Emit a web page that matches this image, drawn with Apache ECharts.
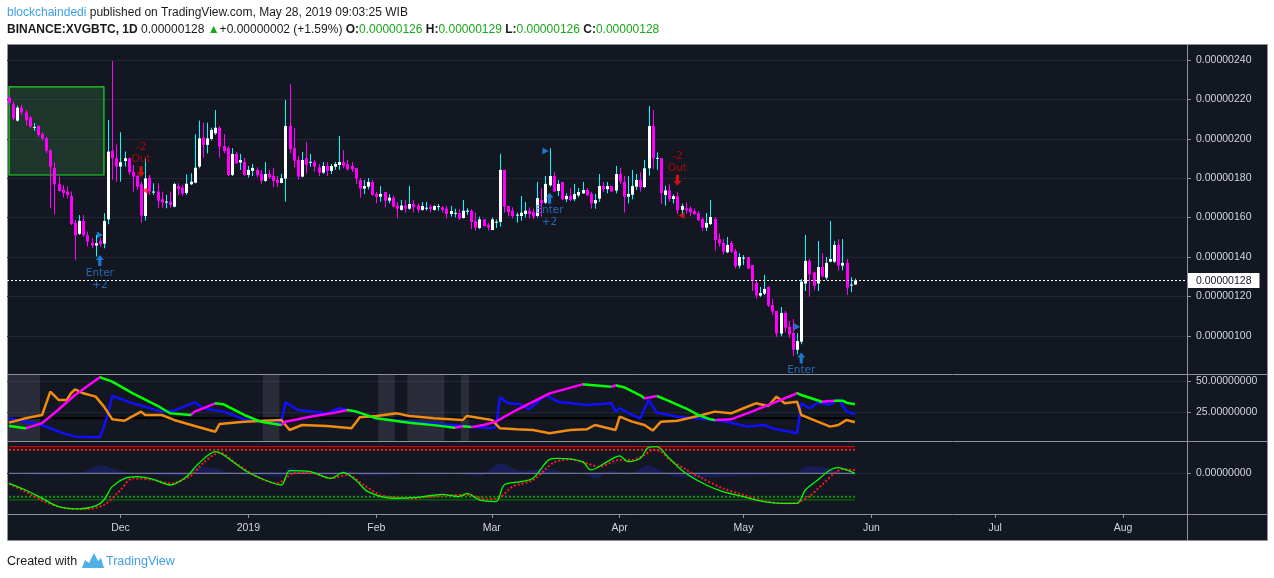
<!DOCTYPE html>
<html>
<head>
<meta charset="utf-8">
<script src="https://cdn.jsdelivr.net/npm/echarts@6/dist/echarts.min.js"></script>
<style>
  html, body { margin: 0; padding: 0; background: #fff; }
  #chart { width: 1274px; height: 578px; }
</style>
</head>
<body>
<div id="chart"></div>
<script>
// daily candles, Nov 4 2018 .. May 28 2019, prices in satoshi (1e-8 BTC)
const START = Date.UTC(2018, 10, 4);
const DAY_COUNT = 286; // visible category slots, data fills the first 206

const open = [
  220.9,217.5,209.2,215.8,213.4,210.7,205.6,206.5,202.4,200.2,
  194.1,185.2,176.9,174.2,173.2,170.9,157.4,151.7,158.3,151.0,
  147.3,145.8,148.1,146.8,159.1,194.0,190.1,185.9,188.7,190.1,
  183.3,181.1,176.9,160.8,180.3,172.9,173.2,169.3,168.0,168.1,
  165.5,176.0,175.2,172.5,176.9,177.7,185.9,200.6,196.9,199.9,
  202.8,205.6,196.3,195.2,181.6,192.3,187.9,188.2,181.6,183.7,
  184.2,182.1,178.6,182.1,181.1,179.1,177.6,179.8,206.5,195.2,
  189.2,180.8,190.1,188.0,188.2,185.5,182.8,186.2,183.7,185.8,
  186.7,188.2,187.2,186.2,185.2,179.1,174.7,175.7,178.1,172.0,
  170.6,173.0,168.6,170.1,166.1,163.9,166.1,164.5,166.9,166.1,
  163.9,164.8,165.5,163.9,165.5,165.2,164.5,161.8,162.2,162.2,
  159.8,163.3,163.5,158.1,154.7,159.1,156.4,153.7,157.8,157.8,
  184.2,165.9,163.5,161.3,160.8,161.8,163.5,162.8,160.8,168.9,
  167.6,176.4,181.1,173.5,178.1,169.3,171.0,169.3,171.3,172.3,
  174.0,172.0,167.2,169.6,176.0,174.4,176.0,173.7,182.1,178.1,
  170.6,171.6,175.7,179.1,175.5,185.0,206.5,190.1,190.1,171.5,
  173.8,169.4,170.8,163.9,164.7,164.7,163.3,162.2,159.3,154.9,
  156.7,159.3,149.1,147.1,142.4,147.1,143.0,135.6,139.6,140.0,
  135.9,126.8,120.4,121.4,124.8,115.6,112.6,101.1,111.6,104.5,
  101.4,92.9,97.0,126.5,138.0,132.2,126.5,134.9,129.5,137.6,
  137.6,146.1,135.6,137.0,125.7,126.0
];
const high = [
  221.9,218.9,216.8,217.2,214.6,211.6,207.9,207.0,203.3,201.0,
  194.6,188.0,180.8,176.6,175.7,173.2,158.8,161.3,161.3,152.9,
  149.5,151.2,149.8,162.2,209.5,239.5,197.2,203.3,193.5,190.4,
  186.7,181.6,178.2,190.0,181.6,177.4,177.4,173.2,171.5,173.2,
  177.7,177.4,176.6,181.9,182.5,202.3,209.2,208.2,208.2,205.6,
  214.6,206.5,202.4,196.3,195.2,193.3,192.3,190.2,186.2,187.2,
  185.5,184.2,188.2,184.2,185.3,181.1,182.1,219.7,227.8,205.3,
  191.3,193.3,198.4,192.3,189.2,187.2,188.2,188.2,187.2,188.2,
  201.4,194.3,189.2,188.2,185.2,180.1,179.1,180.1,179.1,173.0,
  176.0,173.0,172.0,171.3,167.9,168.9,168.9,176.0,168.9,167.2,
  167.9,167.9,166.7,166.2,166.9,165.9,165.9,165.9,164.5,164.2,
  168.9,164.7,164.2,162.5,160.5,159.1,157.4,160.0,159.1,192.3,
  184.2,165.9,165.2,162.5,171.0,167.9,165.2,164.5,178.1,175.0,
  181.1,195.2,183.2,179.1,178.1,172.3,175.0,177.1,175.0,178.1,
  175.0,173.0,172.0,182.1,178.1,178.1,176.0,186.2,185.2,181.1,
  181.1,184.2,182.1,183.0,189.2,216.6,214.6,193.1,190.1,176.2,
  176.9,171.8,172.8,167.1,167.7,165.7,164.7,163.3,160.3,162.3,
  168.9,160.3,152.0,149.1,150.1,148.1,144.1,142.0,141.0,140.0,
  135.9,127.8,124.8,130.9,125.1,118.7,112.6,114.6,112.6,107.5,
  108.5,101.4,128.8,151.2,139.0,132.6,148.1,142.0,140.0,158.3,
  148.1,149.1,149.1,139.0,129.8,129.0
];
const low = [
  217.2,209.5,208.7,212.1,206.7,205.7,204.0,201.0,199.2,192.6,
  164.7,161.6,173.2,170.1,169.8,156.2,138.3,151.2,150.3,145.2,
  144.4,140.2,145.2,144.4,156.6,179.1,178.2,178.2,185.9,181.6,
  173.2,174.0,157.4,158.5,171.5,171.5,164.7,165.0,164.7,164.7,
  165.2,171.5,171.0,171.5,176.5,177.4,185.0,190.4,192.6,199.0,
  201.9,190.4,192.6,181.1,181.1,187.2,184.2,181.1,180.3,181.1,
  180.3,177.1,178.1,179.8,175.4,175.4,177.4,168.1,192.6,185.5,
  179.1,180.4,182.3,185.8,183.3,181.1,182.1,181.1,182.1,184.2,
  184.2,185.0,183.8,183.1,177.1,170.1,172.0,174.3,171.0,167.2,
  168.0,165.2,167.2,165.2,159.5,163.5,162.5,163.9,162.5,162.5,
  163.5,163.5,162.5,163.5,163.5,162.5,159.5,160.5,160.1,158.8,
  159.5,161.3,154.1,153.4,154.1,155.4,153.4,153.7,154.7,155.4,
  162.5,160.5,159.5,157.4,158.4,160.1,159.6,159.1,160.1,160.5,
  166.9,175.7,173.0,171.0,168.9,167.9,168.3,168.3,170.3,172.0,
  171.0,164.5,164.5,167.9,173.0,172.3,173.0,172.3,177.1,162.5,
  167.2,169.3,174.0,173.2,174.9,181.3,184.7,184.2,167.1,166.0,
  168.1,167.1,161.7,161.3,162.0,160.6,161.3,158.3,153.2,153.2,
  156.2,143.2,145.2,141.3,141.9,142.0,134.2,134.2,135.9,133.9,
  122.7,118.7,119.7,120.7,114.6,110.6,99.4,99.7,101.8,99.0,
  89.6,90.6,95.7,122.7,119.9,123.1,122.7,129.5,128.5,137.3,
  137.0,132.9,133.2,120.7,122.1,126.0
];
const close = [
  218.3,210.4,215.8,213.4,209.4,206.2,206.0,201.9,200.2,194.0,
  185.8,176.9,173.5,172.5,171.5,156.7,151.0,158.3,151.0,147.8,
  145.8,147.0,146.4,158.3,193.5,190.1,185.9,188.1,190.1,183.0,
  180.8,175.7,161.0,179.9,173.2,173.2,168.6,167.7,168.1,166.4,
  177.0,174.5,172.1,177.2,178.2,185.3,200.2,196.9,200.2,204.5,
  205.6,196.0,193.8,181.6,192.3,187.5,189.2,181.6,184.2,185.2,
  181.5,178.7,182.1,180.4,178.6,177.6,180.0,206.5,194.8,188.9,
  180.8,189.2,186.7,188.3,185.8,182.8,186.2,183.7,186.2,187.2,
  188.2,186.4,184.5,184.5,179.8,174.7,176.0,178.1,171.5,170.6,
  172.0,168.6,170.1,165.5,164.5,166.1,164.5,166.9,165.2,163.9,
  165.9,165.0,164.4,165.9,165.8,163.9,161.8,163.3,162.4,159.5,
  163.5,163.5,157.8,154.9,159.1,155.7,154.9,159.1,157.9,184.2,
  165.5,162.8,160.8,161.5,162.5,163.5,161.8,160.5,169.9,167.2,
  177.1,181.1,173.3,177.1,169.3,171.0,168.9,172.0,173.0,174.0,
  171.3,167.2,168.9,176.0,174.4,176.0,173.3,182.1,178.4,170.6,
  172.0,176.0,179.1,175.2,185.0,206.5,190.1,190.3,172.5,173.8,
  169.4,170.9,163.7,165.9,163.7,162.7,161.8,158.8,154.9,157.3,
  160.3,148.6,146.8,142.7,146.1,142.7,135.3,140.0,139.7,134.2,
  127.8,120.4,121.7,123.8,115.3,112.3,101.1,111.6,104.1,100.7,
  92.9,97.3,127.5,138.0,131.2,125.4,134.9,130.2,137.0,139.0,
  146.1,135.6,137.0,124.4,126.0,128.0
];

// axis ticks
const priceTicks = [100, 120, 140, 160, 180, 200, 220, 240];
const dmiTicks = [25, 50];
const oscTicks = [0];
const tickDates = ['2018-12-01','2019-01-01','2019-02-01','2019-03-01','2019-04-01','2019-05-01','2019-06-01','2019-07-01','2019-08-01'];
const tickLabels = ['Dec','2019','Feb','Mar','Apr','May','Jun','Jul','Aug'];

// trade signals [dayIndex, price]
const enterIdx = [22, 131, 192];
const enterPrice = [138.2, 169.8, 88.7];
const enterText = ['Enter\n+2', 'Enter\n+2', 'Enter'];
const outIdx = [32, 162];
const outPrice = [183.3, 178.9];
const buyFlagIdx = [22, 130, 191];
const buyFlagPrice = [151.2, 193.8, 104.6];
const sellFlagIdx = [33, 163];
const sellFlagPrice = [173.7, 161.0];

// rectangle drawing [dayIndex, price]
const boxStart = [0, 226.3];
const boxEnd = [23, 181.6];

// DMI pane: [dayIndex, value]
const adx = [[0,13.7],[4,11.8],[8,16],[12,27],[16,38.7],[22,53],[25,49.5],[30,40],[36,30],[39,24],[44,22.6],[45,25.3],[50,32],[52,31.2],[57,22.6],[61,17.2],[66,14.5],[67,17.2],[73,21.2],[79,24.5],[82,26.6],[84,25.5],[89,19.9],[97,16.4],[104,14],[108,12.3],[110,13.5],[112,12.8],[115,14.5],[118,17.2],[123,26.6],[131,40],[139,47.3],[141,46.8],[146,45.4],[147,46.5],[149,45],[153,38.5],[154,36],[157,37.9],[159,35.2],[164,28],[167,22.6],[170,19.1],[171,18.6],[175,19.1],[180,25.3],[185,32],[191,40.1],[192,38.7],[197,33.3],[200,34.1],[202,34.1],[203,32.5],[205,31.2]];
const plusDI = [[0,19.9],[4,17.2],[8,14.5],[12,9.1],[16,5.1],[22,4.6],[23,13.2],[24,23.9],[25,37.9],[30,32],[37,25.3],[40,26.1],[45,32.8],[47,28],[52,25.3],[57,19.1],[61,17.2],[66,17.2],[67,32.8],[70,26.6],[77,23.9],[80,28],[84,25.3],[89,19.9],[97,17.2],[107,14.5],[117,11.8],[118,13.2],[119,36.8],[121,32],[124,31.2],[126,27.2],[130,38.7],[133,33.3],[140,30.6],[146,32],[147,25.3],[148,28],[151,22.6],[153,19.9],[155,34.7],[157,24.5],[162,21.2],[169,19.1],[174,17.2],[179,13.2],[183,14.5],[185,11.8],[191,7.8],[192,32],[194,28],[196,32.5],[199,31],[201,35.2],[203,25.3],[205,23.4]];
const minusDI = [[0,16.4],[4,19.9],[8,22.6],[9,32],[10,41.4],[12,34.7],[14,34.7],[15,40.1],[16,43.3],[18,40.1],[21,37.4],[23,29.3],[25,19.1],[28,18],[32,25.3],[33,22.6],[37,22.6],[40,18.6],[45,13.7],[50,9.1],[51,15.3],[57,17.2],[62,18],[66,18.6],[68,10.5],[71,14.5],[77,13.7],[83,11.8],[85,20.7],[89,21.8],[94,23.9],[97,21.8],[103,19.9],[110,18.6],[111,21.8],[117,18.6],[119,11.8],[123,11],[127,10.5],[131,7.8],[136,10.5],[140,11],[142,14.5],[147,10.5],[148,21.2],[151,17.2],[154,14.5],[156,10],[158,17.2],[162,18],[168,22.6],[171,25.3],[175,23.9],[178,28],[181,32],[184,29.8],[186,37.4],[188,32],[191,33.3],[192,22.6],[196,17.2],[199,13.2],[201,14.5],[203,18.6],[205,16.7]];
const adxKeyLevel = 20;
const shadeRanges = [[0, 7], [62, 65], [90, 93], [97, 105], [110, 111]];

// WaveTrend pane: [dayIndex, value]
const wt1 = [[0,-22.6],[4,-37.7],[8,-56.5],[12,-75.3],[17,-80.5],[21,-73.8],[23,-60.2],[25,-30.2],[28,-11.3],[31,-7.6],[35,-13.6],[39,-26.4],[43,-7.6],[46,22.5],[50,48.9],[52,41.3],[57,7.5],[62,-15.1],[66,-26.4],[68,6],[73,3.7],[78,-11.3],[81,2.2],[84,-15.1],[87,-41.4],[93,-56.5],[99,-54.2],[105,-47.4],[109,-52.7],[111,-45.2],[114,-60.2],[118,-64],[120,-26.4],[124,-18.9],[127,-11.3],[131,31.5],[133,33.8],[139,26.3],[141,7.5],[145,26.3],[148,39.1],[150,26.3],[153,33.8],[155,58.6],[157,60.2],[160,33.8],[164,0],[169,-26.4],[173,-41.4],[178,-52.7],[183,-64],[187,-67.8],[191,-67.8],[193,-37.7],[196,-15.1],[199,7.5],[201,12.8],[203,7.5],[205,0]];
const wt2 = [[0,-24],[4,-41.4],[8,-61.7],[13,-77.5],[18,-81.3],[23,-71.5],[27,-37.7],[30,-11.3],[35,-15.1],[39,-22.6],[44,-6],[47,22.5],[51,46.6],[55,22.5],[60,-7.6],[65,-22.6],[69,0],[73,1.5],[78,-11.3],[82,-3.8],[86,-26.4],[90,-48.9],[97,-56.5],[105,-50.4],[111,-48.9],[116,-58.7],[119,-54.2],[122,-30.2],[127,-15.1],[132,24],[136,31.5],[140,22.5],[143,15],[148,30],[151,30],[154,41.3],[156,52.6],[158,48.9],[160,31.5],[164,9],[168,-11.3],[173,-33.9],[178,-48.9],[183,-62.5],[188,-67.8],[191,-66.3],[194,-51.2],[197,-26.4],[200,0],[202,9],[205,7.5]];
const wtHist = [[0,0],[10,-4],[18,3],[22,18],[26,8],[30,0],[36,-4],[42,-5],[46,14],[50,10],[56,-3],[62,-5],[66,-8],[68,13],[72,3],[78,-4],[82,5],[86,-6],[92,-4],[100,1],[108,0],[114,-6],[119,22],[124,6],[130,10],[134,4],[140,-3],[142,-12],[146,6],[150,-3],[155,18],[158,6],[162,-8],[168,-10],[175,-6],[185,-4],[190,-1],[194,16],[198,12],[202,2],[205,-6]];
const obLevel1 = 60, obLevel2 = 53, osLevel1 = -60, osLevel2 = -53;

const BG = '#131722';
const FRAME = '#8f929b';
const GRID_LINE = '#222634';
const LABEL = '#d1d4dc';
const UP = '#ffffff', WICK_UP = '#00ffff', DOWN = '#ff00ff';
const AXIS_FONT = 'Liberation Sans, Arial, sans-serif';
const HEAD_FONT = 'Liberation Sans, Arial, sans-serif';

const fmtPrice = v => (v / 1e8).toFixed(8);
const fmtOsc = v => v.toFixed(8);

const categories = [];
for (let k = 0; k < DAY_COUNT; k++) {
  categories.push(new Date(START + k * 86400000).toISOString().slice(0, 10));
}
const last = close.length - 1;
const candleData = close.map((c, k) => [k, open[k], high[k], low[k], c]);

function renderCandle(params, api) {
  const x = api.value(0);
  const o = api.value(1), h = api.value(2), l = api.value(3), c = api.value(4);
  const pH = api.coord([x, h]), pL = api.coord([x, l]);
  const pO = api.coord([x, o]), pC = api.coord([x, c]);
  const cx = Math.round(pH[0]);
  const w = Math.max(1, Math.round(api.size([1, 0])[0] * 0.7));
  const up = c >= o;
  const top = Math.min(pO[1], pC[1]);
  const bh = Math.max(1, Math.abs(pO[1] - pC[1]));
  return {
    type: 'group',
    children: [
      { type: 'line', shape: { x1: cx + 0.5, y1: pH[1], x2: cx + 0.5, y2: pL[1] },
        style: { stroke: up ? WICK_UP : DOWN, lineWidth: 1 } },
      { type: 'rect', shape: { x: cx + 0.5 - w / 2, y: top, width: w, height: bh },
        style: { fill: up ? UP : DOWN } }
    ]
  };
}

const arrowPath = 'path://M5,0 L10,5 L7,5 L7,11 L3,11 L3,5 L0,5 Z';
const signalData = [];
enterIdx.forEach((x, k) => signalData.push({
  value: [x, enterPrice[k]], symbol: arrowPath, symbolSize: [8, 11],
  itemStyle: { color: '#1e90ff' },
  label: { show: true, position: 'bottom', distance: 1, formatter: enterText[k],
    color: '#2a7bd0', fontSize: 10.5, lineHeight: 12, fontFamily: 'DejaVu Sans, sans-serif' }
}));
outIdx.forEach((x, k) => signalData.push({
  value: [x, outPrice[k]], symbol: arrowPath, symbolSize: [8, 11], symbolRotate: 180,
  itemStyle: { color: '#ff1010' },
  label: { show: true, position: 'top', distance: 1, formatter: '-2\nOut',
    color: '#d40000', fontSize: 10.5, lineHeight: 12, fontFamily: 'DejaVu Sans, sans-serif' }
}));
buyFlagIdx.forEach((x, k) => signalData.push({
  value: [x, buyFlagPrice[k]], symbol: 'triangle', symbolSize: [7, 6], symbolRotate: -90,
  itemStyle: { color: '#1e90ff' }
}));
sellFlagIdx.forEach((x, k) => signalData.push({
  value: [x, sellFlagPrice[k]], symbol: 'triangle', symbolSize: [7, 6], symbolRotate: 90,
  itemStyle: { color: '#ff1010' }
}));

const shadeData = [];
shadeRanges.forEach(([a, b]) => { for (let k = a; k <= b; k++) shadeData.push([k, 55.65]); });

const adxPieces = [];
for (let k = 0; k < adx.length - 1; k++) {
  if (adx[k + 1][1] > adx[k][1]) adxPieces.push({ gte: adx[k][0], lte: adx[k + 1][0], color: '#ff00ff' });
}

const level = v => [[0, v], [last, v]];

function xAxisFor(gridIndex, showLabels) {
  return {
    type: 'category', gridIndex, data: categories, boundaryGap: true,
    axisLine: { show: false, onZero: false },
    axisTick: { show: showLabels, length: 4, alignWithLabel: true,
      interval: (i, v) => tickDates.includes(v), lineStyle: { color: FRAME } },
    axisLabel: { show: showLabels, interval: (i, v) => tickDates.includes(v),
      formatter: v => tickLabels[tickDates.indexOf(v)] || '',
      color: LABEL, fontSize: 10.5, fontFamily: AXIS_FONT, margin: 9 },
    splitLine: { show: false }
  };
}
function yAxisFor(gridIndex, min, max, ticks, fmt) {
  return {
    type: 'value', gridIndex, position: 'right', min, max, scale: true,
    axisLine: { show: false, onZero: false },
    axisTick: { show: true, length: 4, customValues: ticks, lineStyle: { color: FRAME } },
    axisLabel: { customValues: ticks, formatter: fmt, color: LABEL, fontSize: 10.5,
      fontFamily: AXIS_FONT, margin: 9 },
    splitLine: { show: true, lineStyle: { color: GRID_LINE } }
  };
}

const lastChange = close[last] - close[last - 1];
const lastPct = (lastChange / close[last - 1] * 100).toFixed(2);
const headLine2 =
  '{b|BINANCE:XVGBTC, 1D} {t|' + fmtPrice(close[last]) + '} {g|\u25B2}{t|+' + fmtPrice(lastChange) +
  ' (+' + lastPct + '%)} {b|O:}{g|' + fmtPrice(open[last]) + '} {b|H:}{g|' + fmtPrice(high[last]) +
  '} {b|L:}{g|' + fmtPrice(low[last]) + '} {b|C:}{g|' + fmtPrice(close[last]) + '}';

const chart = echarts.init(document.getElementById('chart'));
chart.setOption({
  animation: false,
  backgroundColor: '#ffffff',
  textStyle: { fontFamily: AXIS_FONT },
  grid: [
    { left: 7, top: 44, width: 1180, height: 330 },
    { left: 7, top: 374, width: 1180, height: 67 },
    { left: 7, top: 441, width: 1180, height: 73 }
  ],
  xAxis: [xAxisFor(0, false), xAxisFor(1, false), xAxisFor(2, true)],
  yAxis: [
    yAxisFor(0, 80.6, 248.1, priceTicks, fmtPrice),
    yAxisFor(1, 1.6, 55.65, dmiTicks, fmtOsc),
    yAxisFor(2, -91.9, 72.9, oscTicks, fmtOsc)
  ],
  visualMap: [{
    type: 'piecewise', show: false, seriesIndex: 4, dimension: 0,
    pieces: adxPieces, outOfRange: { color: '#00ff00' }
  }],
  graphic: [
    { type: 'rect', z: -10, silent: true,
      shape: { x: 7.5, y: 44.5, width: 1260, height: 496 },
      style: { fill: BG, stroke: FRAME, lineWidth: 1 } },
    { type: 'line', z: 50, silent: true, shape: { x1: 7.5, y1: 374.5, x2: 1267.5, y2: 374.5 }, style: { stroke: FRAME } },
    { type: 'line', z: 50, silent: true, shape: { x1: 7.5, y1: 441.5, x2: 1267.5, y2: 441.5 }, style: { stroke: FRAME } },
    { type: 'line', z: 50, silent: true, shape: { x1: 7.5, y1: 514.5, x2: 1267.5, y2: 514.5 }, style: { stroke: FRAME } },
    { type: 'line', z: 50, silent: true, shape: { x1: 1187.5, y1: 44.5, x2: 1187.5, y2: 540.5 }, style: { stroke: FRAME } },
    { type: 'text', left: 7, top: 7, z: 50,
      style: {
        text: '{u|blockchaindedi}{t| published on TradingView.com, May 28, 2019 09:03:25 WIB}\n' + headLine2,
        rich: {
          u: { fill: '#3d9ee8', fontSize: 12, fontFamily: HEAD_FONT, lineHeight: 17 },
          t: { fill: '#1a1a1a', fontSize: 12, fontFamily: HEAD_FONT, lineHeight: 17 },
          b: { fill: '#1a1a1a', fontSize: 12, fontWeight: 'bold', fontFamily: HEAD_FONT, lineHeight: 17 },
          g: { fill: '#16a816', fontSize: 12, fontFamily: HEAD_FONT, lineHeight: 17 }
        }
      } },
    { type: 'text', left: 7, top: 555, z: 50,
      style: { text: 'Created with', fill: '#1a1a1a', fontSize: 12.5, fontFamily: HEAD_FONT } },
    { type: 'polygon', z: 50, silent: true,
      shape: { points: [[82, 568], [85, 560], [89, 563], [94, 553], [98, 561], [101, 558], [104, 568]] },
      style: { fill: '#4fb0e6' } },
    { type: 'text', left: 106, top: 555, z: 50,
      style: { text: 'TradingView', fill: '#3d9ee8', fontSize: 12.5, fontFamily: HEAD_FONT } }
  ],
  series: [
    { // 0 candles
      type: 'custom', name: 'XVGBTC', xAxisIndex: 0, yAxisIndex: 0,
      renderItem: renderCandle, encode: { x: 0, y: [1, 2, 3, 4] }, data: candleData, z: 3
    },
    { // 1 signals + drawings
      type: 'scatter', xAxisIndex: 0, yAxisIndex: 0, data: signalData, z: 4,
      markLine: {
        silent: true, symbol: 'none',
        lineStyle: { color: '#ffffff', type: [2, 2], width: 1 },
        label: { show: true, position: 'end', distance: 1, formatter: fmtPrice(close[last]),
          backgroundColor: '#ffffff', color: '#131722', padding: [2, 8, 2, 8],
          fontSize: 10.5, fontFamily: AXIS_FONT },
        data: [{ yAxis: close[last] }]
      },
      markArea: {
        silent: true,
        itemStyle: { color: 'rgba(76,175,80,0.2)', borderColor: '#22d922', borderWidth: 1.2 },
        data: [[{ xAxis: boxStart[0], yAxis: boxStart[1] }, { xAxis: boxEnd[0], yAxis: boxEnd[1] }]]
      }
    },
    { // 2 shaded bands
      type: 'bar', xAxisIndex: 1, yAxisIndex: 1, data: shadeData, barCategoryGap: '0%',
      itemStyle: { color: 'rgba(120,123,134,0.23)' }, z: 1, silent: true
    },
    { // 3 key level
      type: 'line', xAxisIndex: 1, yAxisIndex: 1, data: level(adxKeyLevel), showSymbol: false,
      lineStyle: { color: '#000000', width: 2 }, z: 2, silent: true
    },
    { // 4 ADX
      type: 'line', xAxisIndex: 1, yAxisIndex: 1, data: adx, showSymbol: false,
      lineStyle: { width: 2.5 }, z: 5
    },
    { // 5 +DI
      type: 'line', xAxisIndex: 1, yAxisIndex: 1, data: plusDI, showSymbol: false,
      lineStyle: { color: '#1010ff', width: 2.5 }, itemStyle: { color: '#1010ff' }, z: 4
    },
    { // 6 -DI
      type: 'line', xAxisIndex: 1, yAxisIndex: 1, data: minusDI, showSymbol: false,
      lineStyle: { color: '#f08c12', width: 2.5 }, itemStyle: { color: '#f08c12' }, z: 4
    },
    { // 7 histogram
      type: 'line', xAxisIndex: 2, yAxisIndex: 2, data: wtHist, showSymbol: false, smooth: 0.4,
      lineStyle: { width: 0 }, areaStyle: { color: 'rgba(30,40,170,0.55)' }, z: 2
    },
    { type: 'line', xAxisIndex: 2, yAxisIndex: 2, data: level(obLevel1), showSymbol: false,
      lineStyle: { color: '#ff0000', width: 1 }, z: 2 },
    { type: 'line', xAxisIndex: 2, yAxisIndex: 2, data: level(obLevel2), showSymbol: false,
      lineStyle: { color: '#ff2020', width: 2, type: [2, 2] }, z: 2 },
    { type: 'line', xAxisIndex: 2, yAxisIndex: 2, data: level(0), showSymbol: false,
      lineStyle: { color: '#8589b0', width: 1 }, z: 2 },
    { type: 'line', xAxisIndex: 2, yAxisIndex: 2, data: level(osLevel2), showSymbol: false,
      lineStyle: { color: '#0a9a0a', width: 2, type: [2, 2] }, z: 2 },
    { type: 'line', xAxisIndex: 2, yAxisIndex: 2, data: level(osLevel1), showSymbol: false,
      lineStyle: { color: '#008000', width: 1 }, z: 2 },
    { // wt2 signal
      type: 'line', xAxisIndex: 2, yAxisIndex: 2, data: wt2, showSymbol: false, smooth: 0.3,
      lineStyle: { color: '#ff1a1a', width: 2, type: [2, 2] }, itemStyle: { color: '#ff1a1a' }, z: 4
    },
    { // wt1
      type: 'line', xAxisIndex: 2, yAxisIndex: 2, data: wt1, showSymbol: false, smooth: 0.3,
      lineStyle: { color: '#00ff00', width: 1.3 }, itemStyle: { color: '#00ff00' }, z: 5
    }
  ]
});
window.addEventListener('resize', () => chart.resize());
</script>
</body>
</html>
